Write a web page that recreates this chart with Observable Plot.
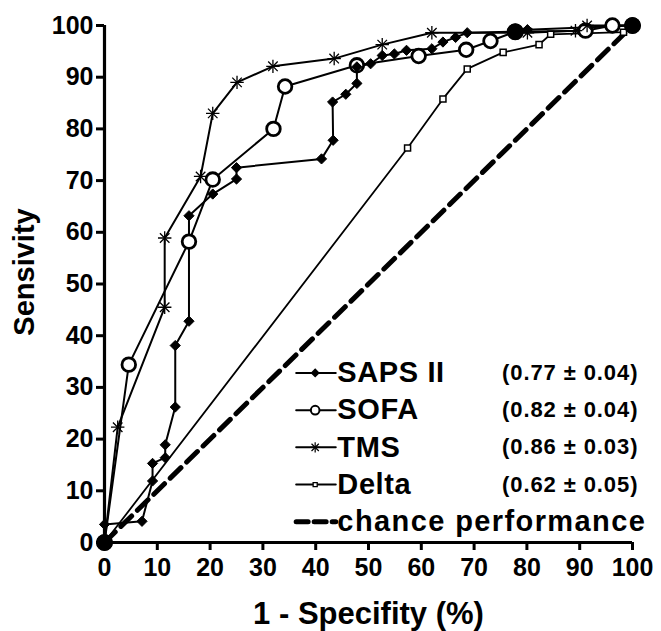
<!DOCTYPE html>
<html>
<head>
<meta charset="utf-8">
<script src="https://cdn.jsdelivr.net/npm/d3@7"></script>
<script src="https://cdn.jsdelivr.net/npm/@observablehq/plot@0.6"></script>
<style>
  html, body { margin: 0; padding: 0; background: white; }
  #chart { width: 661px; height: 631px; }
</style>
</head>
<body>
<div id="chart"></div>
<script>
// ---- data (1 - specificity %, sensitivity %) ----
const sapsX = [0, 0, 7.1, 9.1, 9.1, 11.5, 11.5, 13.4, 13.4, 16, 16, 20.5, 25, 25, 41.1, 43.3, 43.2, 45.7, 47.8, 47.8, 50.4, 52.6, 54.9, 57.2, 62, 64.1, 66.5, 68.7, 77.8, 80.1, 100];
const sapsY = [0, 3.5, 4.1, 11.9, 15.3, 16.4, 18.9, 26.2, 38.1, 42.8, 63.2, 67.4, 70.3, 72.5, 74.2, 77.8, 85.2, 86.7, 88.8, 92, 92.6, 94.2, 94.5, 95.2, 95.5, 96.8, 97.7, 98.6, 98.8, 99.2, 100];

const sofaX = [0, 4.6, 16, 20.5, 32, 34.2, 47.8, 59.5, 68.5, 73.1, 77.8, 91.1, 96.2, 100];
const sofaY = [0, 34.4, 58.2, 70.2, 80, 88.2, 92.3, 94.1, 95.3, 97, 98.8, 99, 100, 100];

const tmsX = [0, 2.5, 11.4, 11.4, 18.2, 20.5, 25.1, 31.9, 43.5, 52.6, 62, 80.1, 89.2, 91.4, 100];
const tmsY = [0, 22.3, 45.5, 58.9, 70.8, 83, 89, 92.1, 93.6, 96.3, 98.6, 98.6, 99, 100, 100];

const deltaX = [0, 57.4, 64.1, 68.7, 75.5, 82.3, 84.5, 98.3, 100];
const deltaY = [0, 76.3, 85.8, 91.6, 94.8, 96.3, 98.3, 98.7, 100];

// coincident markers that print as solid dots
const solidX = [0, 77.8, 100];
const solidY = [0, 98.8, 100];

const chanceX = [0, 100];
const chanceY = [0, 100];

const xTicks = [0, 10, 20, 30, 40, 50, 60, 70, 80, 90, 100];
const yTicks = [0, 10, 20, 30, 40, 50, 60, 70, 80, 90, 100];

const legendNames = ["SAPS II", "SOFA", "TMS", "Delta", "chance performance"];
const legendAUC = ["(0.77 \u00b1 0.04)", "(0.82 \u00b1 0.04)", "(0.86 \u00b1 0.03)", "(0.62 \u00b1 0.05)", ""];

const xTitle = "1 - Specifity (%)";
const yTitle = "Sensivity";

// ---- helpers ----
const idx = a => d3.range(a.length);
const lineOf = (X, Y, o) => Plot.line(idx(X), {x: i => X[i], y: i => Y[i], stroke: "black", ...o});
const dotOf = (X, Y, o) => Plot.dot(idx(X), {x: i => X[i], y: i => Y[i], ...o});

// legend layout (in data units of the frame)
const rowY = i => 32.8 - 7.2 * i;
const lx1 = 36.3, lx2 = 43.8, lmx = 39.9, ltx = 44.1, lvx = 75.3;
const seg = i => Plot.line([[lx1, rowY(i)], [lx2, rowY(i)]], {stroke: "black", strokeWidth: 2});
const mk = i => [[lmx, rowY(i)]];

const bold = {fontWeight: "bold"};

const chart = Plot.plot({
  width: 661,
  height: 631,
  marginLeft: 104,
  marginRight: 29,
  marginTop: 25,
  marginBottom: 89,
  x: {domain: [0, 100]},
  y: {domain: [0, 100]},
  style: {fontFamily: "'Liberation Sans', Arial, Helvetica, sans-serif", background: "white", color: "black", overflow: "visible"},
  marks: [
    // chance line
    lineOf(chanceX, chanceY, {strokeWidth: 5, strokeDasharray: "15,8"}),
    // series lines
    lineOf(deltaX, deltaY, {strokeWidth: 1.8}),
    lineOf(sapsX, sapsY, {strokeWidth: 2}),
    lineOf(sofaX, sofaY, {strokeWidth: 2}),
    lineOf(tmsX, tmsY, {strokeWidth: 2}),
    // markers
    dotOf(deltaX, deltaY, {symbol: "square", r: 3.4, fill: "white", stroke: "black", strokeWidth: 1.5}),
    dotOf(sofaX, sofaY, {symbol: "circle", r: 6.8, fill: "white", stroke: "black", strokeWidth: 2.8}),
    dotOf(tmsX, tmsY, {symbol: "plus", r: 4.4, stroke: "black", strokeWidth: 1.3}),
    dotOf(tmsX, tmsY, {symbol: "times", r: 4.4, stroke: "black", strokeWidth: 1.3}),
    dotOf(sapsX, sapsY, {symbol: "diamond2", r: 4.6, fill: "black", stroke: "black", strokeWidth: 1}),
    dotOf(solidX, solidY, {symbol: "circle", r: 7.8, fill: "black", stroke: "black"}),

    // axes
    Plot.axisX(xTicks, {tickSize: 8, tickPadding: 8, strokeWidth: 3, fontSize: 25, fontWeight: "bold", label: null}),
    Plot.axisY(yTicks, {tickSize: 8, tickPadding: 3, strokeWidth: 3, fontSize: 25, fontWeight: "bold", label: null}),
    Plot.ruleY([0], {strokeWidth: 3.2}),
    Plot.ruleX([0], {strokeWidth: 3.2}),

    // axis titles
    Plot.text([xTitle], {text: d => d, frameAnchor: "bottom", dy: 72, textAnchor: "middle", lineAnchor: "middle", fontSize: 31, ...bold}),
    Plot.text([yTitle], {text: d => d, frameAnchor: "left", dx: -80, dy: -12, rotate: -90, textAnchor: "middle", lineAnchor: "middle", fontSize: 29, ...bold}),

    // legend
    seg(0), seg(1), seg(2), seg(3),
    Plot.dot(mk(0), {symbol: "diamond2", r: 3.2, fill: "black", stroke: "black"}),
    Plot.dot(mk(1), {symbol: "circle", r: 4.3, fill: "white", stroke: "black", strokeWidth: 2}),
    Plot.dot(mk(2), {symbol: "plus", r: 3.4, stroke: "black", strokeWidth: 1.2}),
    Plot.dot(mk(2), {symbol: "times", r: 3.4, stroke: "black", strokeWidth: 1.2}),
    Plot.dot(mk(3), {symbol: "square", r: 2.3, fill: "white", stroke: "black", strokeWidth: 1.3}),
    Plot.line([[lx1, rowY(4)], [lx2, rowY(4)]], {stroke: "black", strokeWidth: 5, strokeDasharray: "12,6"}),
    Plot.text(idx(legendNames), {x: ltx, y: i => rowY(i), text: i => legendNames[i], textAnchor: "start", lineAnchor: "middle", fontSize: 29, ...bold}),
    Plot.text(idx(legendAUC), {x: lvx, y: i => rowY(i), text: i => legendAUC[i], textAnchor: "start", lineAnchor: "middle", fontSize: 22, ...bold})
  ]
});

// letter spacing of the legend text, as in the original figure
d3.select(chart).selectAll("text").each(function () {
  const t = this.textContent;
  if (t === "chance performance") this.setAttribute("letter-spacing", "1.4");
  else if (legendNames.includes(t)) this.setAttribute("letter-spacing", "0.6");
  else if (legendAUC.includes(t) && t) this.setAttribute("letter-spacing", "0.9");
});

document.getElementById("chart").appendChild(chart);
</script>
</body>
</html>
